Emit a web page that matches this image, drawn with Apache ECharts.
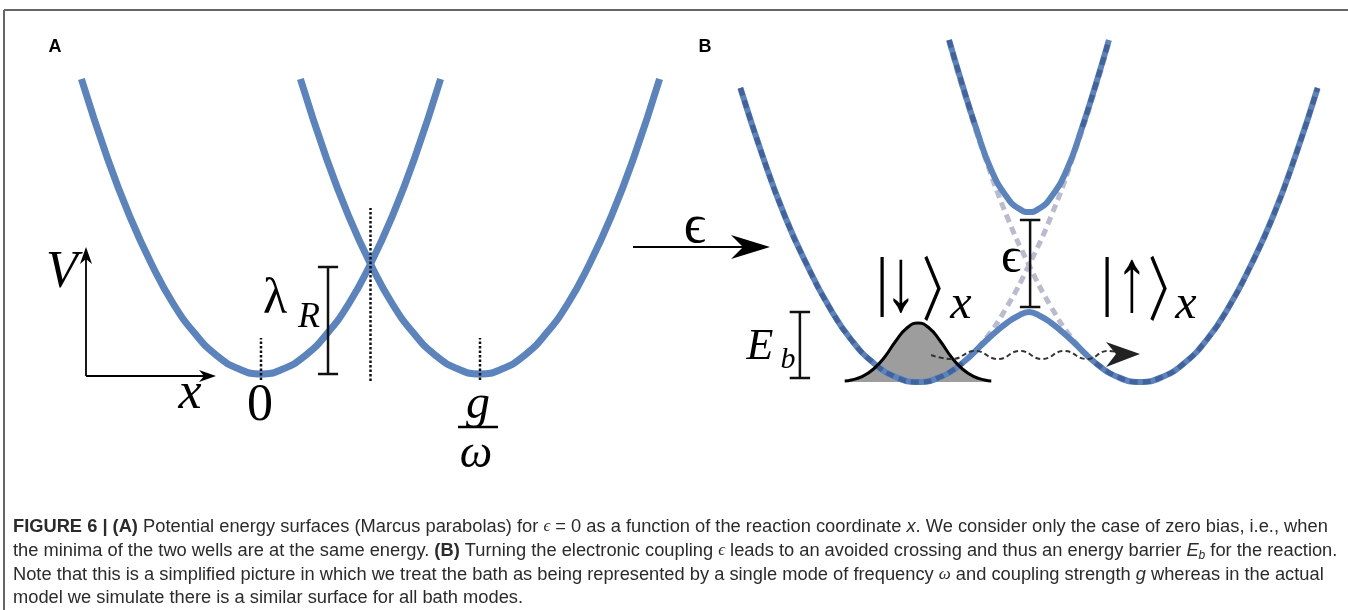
<!DOCTYPE html>
<html><head><meta charset="utf-8">
<script src="https://cdn.jsdelivr.net/npm/echarts@6/dist/echarts.min.js"></script>
<style>html,body{margin:0;padding:0;background:#fff}#c{width:1348px;height:610px}</style>
</head><body><div id="c"></div>
<script>
// ---- Panel A: Marcus parabolas (x in units of g/omega, V in arbitrary energy units) ----
const xLeftA  = [-0.82,-0.7,-0.6,-0.5,-0.4,-0.3,-0.2,-0.1,0,0.1,0.2,0.3,0.4,0.5,0.6,0.7,0.82];
const xRightA = [0.18,0.3,0.4,0.5,0.6,0.7,0.8,0.9,1,1.1,1.2,1.3,1.4,1.5,1.6,1.7,1.82];
const vParabA = [2.95,2.15,1.58,1.10,0.70,0.40,0.18,0.05,0,0.05,0.18,0.40,0.70,1.10,1.58,2.15,2.95];
const guideAx   = [0, 0.5, 1];
const guideAtop = [0.36, 1.66, 0.36];
const guideAbot = [-0.06, -0.07, -0.06];
const lambdaR = 1.07;           // bracket height (crossing energy)

// ---- Panel B: avoided crossing ----
const xLowB = [-0.8,-0.7,-0.6,-0.5,-0.4,-0.3,-0.2,-0.1,0,0.1,0.2,0.3,0.35,0.4,0.45,0.5,0.55,0.6,0.65,0.7,0.8,0.9,1.0,1.1,1.2,1.3,1.4,1.5,1.6,1.7,1.8];
const vLowB = [2.94,2.26,1.66,1.17,0.75,0.42,0.19,0.05,0,0.05,0.19,0.40,0.50,0.59,0.66,0.70,0.66,0.59,0.50,0.40,0.19,0.05,0,0.05,0.19,0.42,0.75,1.17,1.66,2.26,2.94];
const xUpB  = [0.14,0.2,0.26,0.33,0.4,0.45,0.5,0.55,0.6,0.67,0.74,0.8,0.86];
const vUpB  = [3.42,2.97,2.55,2.12,1.85,1.74,1.70,1.74,1.85,2.12,2.55,2.97,3.42];
const xDiaL = [-0.8,-0.7,-0.6,-0.5,-0.4,-0.3,-0.2,-0.1,0,0.1,0.2,0.3,0.4,0.5,0.6,0.7,0.8,0.86];
const vDiaL = [2.94,2.26,1.66,1.17,0.75,0.42,0.19,0.05,0,0.05,0.19,0.42,0.75,1.17,1.66,2.26,2.94,3.40];
const xDiaR = [0.14,0.2,0.3,0.4,0.5,0.6,0.7,0.8,0.9,1.0,1.1,1.2,1.3,1.4,1.5,1.6,1.7,1.8];
const vDiaR = [3.40,2.94,2.26,1.66,1.17,0.75,0.42,0.19,0.05,0,0.05,0.19,0.42,0.75,1.17,1.66,2.26,2.94];
const xGauss = [-0.33,-0.3,-0.25,-0.2,-0.15,-0.1,-0.05,0,0.05,0.1,0.15,0.2,0.25,0.3,0.33];
const vGauss = [0.01,0.02,0.056,0.13,0.25,0.41,0.54,0.59,0.54,0.41,0.25,0.13,0.056,0.02,0.01];
const gaussBase = 0;
const xWave = [0.059,0.153,0.257,0.36,0.459,0.559,0.658,0.761,0.856,0.946];
const vWave = [0.27,0.23,0.31,0.23,0.31,0.23,0.31,0.23,0.31,0.28];
const barrierEb = [0.04, 0.70];
const gapEps    = [0.75, 1.62];

const BLUE = '#5b83bd';
const pairs = (xs, ys) => xs.map((x, i) => [x, ys[i]]);
const bracket = (x, half, y0, y1) => [[x-half,y0],[x+half,y0],[x,y0],[x,y1],[x-half,y1],[x+half,y1]];

const series = [];
function line(gi, data, style, extra) {
  series.push(Object.assign({type:'line', xAxisIndex:gi, yAxisIndex:gi, data, symbol:'none',
    silent:true, animation:false, lineStyle:style}, extra||{}));
}
// Panel A
line(0, pairs(xLeftA, vParabA), {color:BLUE, width:7}, {smooth:true, z:2});
line(0, pairs(xRightA, vParabA), {color:BLUE, width:7}, {smooth:true, z:2});
guideAx.forEach((gx, i) => line(0, [[gx, guideAbot[i]], [gx, guideAtop[i]]], {color:'#111', width:2.5, type:[2.5,2]}, {z:3}));
line(0, bracket(0.306, 0.046, 0, lambdaR), {color:'#111', width:2.5}, {z:3});
// Panel B: filled wave packet (polygon through the axes' scales)
series.push({type:'custom', coordinateSystem:'cartesian2d', xAxisIndex:1, yAxisIndex:1, data:[0], z:1,
  silent:true, animation:false,
  renderItem:(params, api) => {
    const pts = xGauss.map((x, i) => api.coord([x, vGauss[i]]));
    pts.push(api.coord([xGauss[xGauss.length-1], gaussBase]));
    pts.push(api.coord([xGauss[0], gaussBase]));
    return {type:'polygon', shape:{points:pts}, style:{fill:'#9d9d9d'}};
  }});
// diabatic (uncoupled) parabolas, grey dashed, under the adiabatic surfaces
const DIA = '#bbbbd0';
line(1, pairs(xDiaL, vDiaL), {color:DIA, width:5, type:[8,5]}, {smooth:true, z:1});
line(1, pairs(xDiaR, vDiaR), {color:DIA, width:5, type:[8,5]}, {smooth:true, z:1});
// adiabatic surfaces
const lowPts = pairs(xLowB, vLowB), upPts = pairs(xUpB, vUpB);
line(1, lowPts, {color:BLUE, width:6}, {smooth:true, z:2});
line(1, upPts, {color:BLUE, width:6}, {smooth:true, z:2});
// where a diabatic parabola lies on an adiabatic surface, its dashes show as darker stripes
const STRIPE = '#42629e';
line(1, lowPts.filter(p => p[0] <= 0.22), {color:STRIPE, width:5, type:[8,5]}, {smooth:true, z:3});
line(1, lowPts.filter(p => p[0] >= 0.78), {color:STRIPE, width:5, type:[8,5]}, {smooth:true, z:3});
line(1, upPts.filter(p => p[0] <= 0.3), {color:STRIPE, width:5, type:[8,5]}, {smooth:true, z:3});
line(1, upPts.filter(p => p[0] >= 0.7), {color:STRIPE, width:5, type:[8,5]}, {smooth:true, z:3});
line(1, pairs(xGauss, vGauss), {color:'#000', width:3}, {smooth:true, z:4});
line(1, pairs(xWave, vWave), {color:'#333', width:2, type:[5,3]}, {smooth:true, z:4});
line(1, bracket(-0.532, 0.046, barrierEb[0], barrierEb[1]), {color:'#111', width:2.5}, {z:4});
line(1, bracket(0.505, 0.046, gapEps[0], gapEps[1]), {color:'#111', width:2.5}, {z:4});

// ---- annotations ----
const SERIF = "'Liberation Serif','DejaVu Serif',serif";
const CJK = "'Noto Sans CJK JP','Noto Sans CJK SC',sans-serif";
function T(x, y, text, size, opt) {
  opt = opt || {};
  const el = {type:'text', x, y, z:10, silent:true, style:{text, fontSize:size, fontFamily:opt.family||SERIF,
    fontStyle:opt.italic?'italic':'normal', fontWeight:opt.weight||(opt.bold?'bold':'normal'), fill:opt.fill||'#000',
    textAlign:opt.align||'center', textVerticalAlign:opt.valign||'middle'}};
  if (opt.sx) el.scaleX = opt.sx;
  if (opt.sy) el.scaleY = opt.sy;
  return el;
}
function L(x1,y1,x2,y2,w,c){return {type:'line', z:10, silent:true, shape:{x1,y1,x2,y2}, style:{stroke:c||'#000', lineWidth:w}};}
function P(points,c){return {type:'polygon', z:10, silent:true, shape:{points}, style:{fill:c||'#000'}};}

const CAP = "'Liberation Sans',Arial,sans-serif";
const CF = 18.3;
const capRich = {
  b:{fontWeight:'bold', fontFamily:CAP, fontSize:CF, fill:'#2b2b2b'},
  i:{fontStyle:'italic', fontFamily:CAP, fontSize:CF, fill:'#2b2b2b'},
  m:{fontStyle:'italic', fontFamily:SERIF, fontSize:17, fill:'#2b2b2b'},
  s:{fontStyle:'italic', fontFamily:CAP, fontSize:12, fill:'#2b2b2b', verticalAlign:'bottom', padding:[9,0,0,0]}
};
const capLines = [
  '{b|FIGURE 6 | (A)} Potential energy surfaces (Marcus parabolas) for {m|ϵ} = 0 as a function of the reaction coordinate {i|x}. We consider only the case of zero bias, i.e., when',
  'the minima of the two wells are at the same energy. {b|(B)} Turning the electronic coupling {m|ϵ} leads to an avoided crossing and thus an energy barrier {i|E}{s|b} for the reaction.',
  'Note that this is a simplified picture in which we treat the bath as being represented by a single mode of frequency {m|ω} and coupling strength {i|g} whereas in the actual',
  'model we simulate there is a similar surface for all bath modes.'
];
const capY = [527, 551, 575, 598];

const graphic = [
  L(4,10,1348,10,2,'#666'), L(4,10,4,610,2,'#666'),
  T(55,47,'A',18,{family:"'Liberation Sans',Arial,sans-serif", bold:true}),
  T(705,47,'B',18,{family:"'Liberation Sans',Arial,sans-serif", bold:true}),
  // V-x axes
  L(86,376,86,258,1.8), L(86,376,205,376,1.8),
  P([[86,247],[80,264],[86,259],[92,264]]),
  P([[216,376],[199,370],[204,376],[199,382]]),
  T(62,273,'V',52,{italic:true}),
  T(190,394,'x',52,{italic:true}),
  T(260,406,'0',52),
  T(275,300,'λ',50),
  T(309,318,'R',36,{italic:true}),
  T(478,405,'g',48,{italic:true}),
  L(458,427,498,427,2.5),
  T(476,455,'ω',46,{italic:true}),
  // epsilon arrow
  L(633,247,748,247,2.2),
  P([[770,247],[731,235],[743,247],[731,259]]),
  T(695,228,'ϵ',55),
  // panel B labels
  T(760,347,'E',44,{italic:true}),
  T(788,360,'b',30,{italic:true}),
  T(1011,259,'ϵ',50),
  T(882,286,'|',66),
  T(901,286,'↓',64,{sy:1.4}),
  T(922,288,'〉',70,{family:CJK, align:'left', sx:0.65}),
  T(961,305,'x',48,{italic:true}),
  T(1107,286,'|',66),
  T(1132,286,'↑',64,{sy:1.4}),
  T(1148,288,'〉',70,{family:CJK, align:'left', sx:0.65}),
  T(1186,305,'x',48,{italic:true}),
  // wave arrowhead
  P([[1140,354],[1106,342],[1116,354],[1106,367]],'#222')
];
capLines.forEach((t, i) => graphic.push({type:'text', x:13, y:capY[i], z:10, silent:true,
  style:{text:t, fontSize:CF, fontFamily:CAP, fill:'#2b2b2b', textAlign:'left', textVerticalAlign:'middle', rich:capRich}}));

const chart = echarts.init(document.getElementById('c'), null, {renderer:'canvas'});
chart.setOption({
  animation:false,
  backgroundColor:'#fff',
  grid:[{left:42, top:24, width:657, height:400}, {left:718.2, top:22, width:621.6, height:410}],
  xAxis:[{gridIndex:0, type:'value', min:-1, max:2, show:false}, {gridIndex:1, type:'value', min:-0.9, max:1.9, show:false}],
  yAxis:[{gridIndex:0, type:'value', min:-0.5, max:3.5, show:false}, {gridIndex:1, type:'value', min:-0.5, max:3.6, show:false}],
  series,
  graphic
});
</script></body></html>
